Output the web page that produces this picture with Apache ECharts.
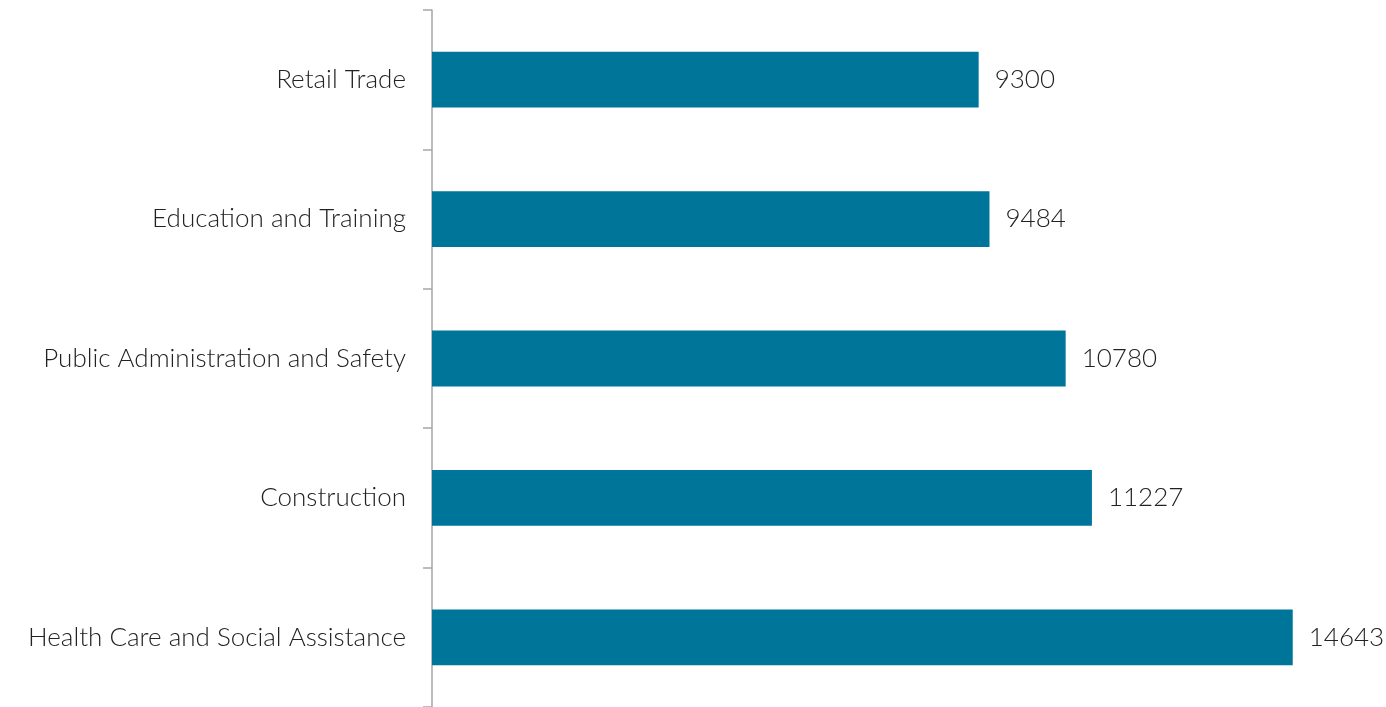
<!DOCTYPE html>
<html>
<head>
<meta charset="utf-8">
<script src="https://cdn.jsdelivr.net/npm/echarts@6/dist/echarts.min.js"></script>
<style>
  html, body { margin: 0; padding: 0; background: #fff; }
  #chart { width: 1386px; height: 707px; }
</style>
</head>
<body>
<div id="chart"></div>
<script>
// top to bottom
const industries = [
  'Retail Trade',
  'Education and Training',
  'Public Administration and Safety',
  'Construction',
  'Health Care and Social Assistance'
];
const workers = [9300, 9484, 10780, 11227, 14643];

const chart = echarts.init(document.getElementById('chart'));

chart.setOption({
  animation: false,
  grid: { left: 432, right: 13.5, top: 10, bottom: 0, containLabel: false },
  xAxis: {
    type: 'value',
    min: 0,
    max: 16000,
    show: false
  },
  yAxis: {
    type: 'category',
    data: industries,
    inverse: true,
    axisLine: { show: true, lineStyle: { color: '#a6a6a6', width: 1.5 } },
    axisTick: { show: true, length: 9, lineStyle: { color: '#a6a6a6', width: 1.5 } },
    axisLabel: {
      margin: 26,
      fontFamily: 'Lato',
      fontWeight: 300,
      fontSize: 26,
      color: '#222'
    }
  },
  series: [{
    type: 'bar',
    data: workers,
    barWidth: '40%',
    itemStyle: { color: '#00759a' },
    label: {
      show: true,
      position: 'right',
      distance: 16,
      fontFamily: 'Lato',
      fontWeight: 300,
      fontSize: 26,
      color: '#222'
    }
  }]
});

// keep it sized with the window
window.addEventListener('resize', () => chart.resize());
</script>
</body>
</html>
